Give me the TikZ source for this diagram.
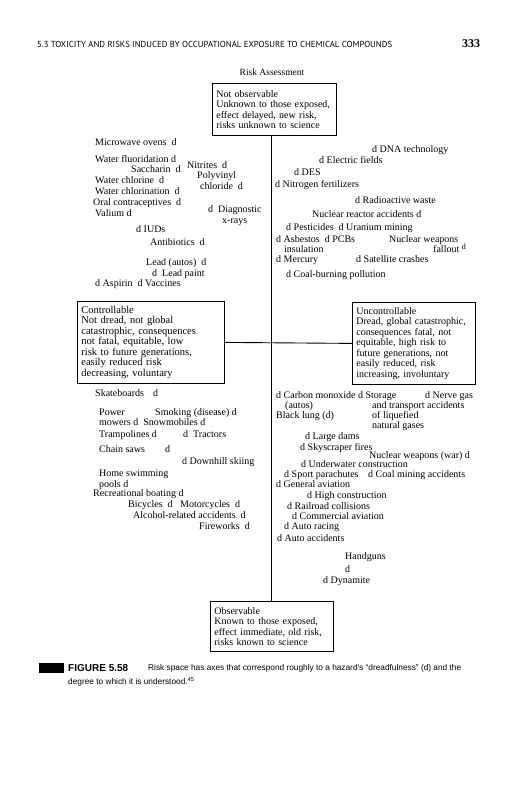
\documentclass[tikz,border=0pt]{standalone}
\usepackage{fontspec}
\setmainfont{Liberation Serif}
\newfontfamily\hdrsans{PT Sans}
\newfontfamily\capsans{Liberation Sans}
\begin{document}
\begin{tikzpicture}[x=1pt,y=-1pt,
  it/.style={anchor=base west, inner sep=0pt, font=\fontsize{10}{11}\selectfont},
  bx/.style={draw, line width=0.8pt, anchor=north west, align=left, inner xsep=4pt, inner ysep=2pt, font=\fontsize{10}{10.5}\selectfont},
  axisline/.style={line width=0.9pt}]
\useasboundingbox[fill=white] (0,0) rectangle (523,800);

% header
\node[anchor=base west, inner sep=0pt] (hdr) at (37,48) {\resizebox{355pt}{!}{\hdrsans 5.3 TOXICITY AND RISKS INDUCED BY OCCUPATIONAL EXPOSURE TO CHEMICAL COMPOUNDS}};
\node[anchor=base west, inner sep=0pt, font=\bfseries\fontsize{12}{12}\selectfont] (pg) at (462,48) {333};

\node[anchor=base, inner sep=0pt, font=\fontsize{9.5}{10}\selectfont] (title) at (272,75) {Risk Assessment};

% boxes
\node[bx, text width=116pt, minimum height=52pt] (top) at (212,83) {\mbox{Not observable}\\\mbox{Unknown to those exposed,}\\\mbox{effect delayed, new risk,}\\\mbox{risks unknown to science}};
\node[bx, text width=139pt, minimum height=82pt, font=\fontsize{10.5}{10.5}\selectfont] (ctrl) at (77,301) {\mbox{Controllable}\\\mbox{Not dread, not global}\\\mbox{catastrophic, consequences}\\\mbox{not fatal, equitable, low}\\\mbox{risk to future generations,}\\\mbox{easily reduced risk}\\\mbox{decreasing, voluntary}};
\node[bx, text width=115pt, minimum height=82pt] (unc) at (352,302) {\mbox{Uncontrollable}\\\mbox{Dread, global catastrophic,}\\\mbox{consequences fatal, not}\\\mbox{equitable, high risk to}\\\mbox{future generations, not}\\\mbox{easily reduced, risk}\\\mbox{increasing, involuntary}};
\node[bx, text width=115pt, minimum height=50pt] (obs) at (210,601) {\mbox{Observable}\\\mbox{Known to those exposed,}\\\mbox{effect immediate, old risk,}\\\mbox{risks known to science}};

% axes
\draw[axisline] (obs.north |- top.south) -- (obs.north);
\draw[axisline] (ctrl.east) -- (unc.west);

% upper left
\node[it] (a1) at (95,145) {Microwave ovens\ \ d};
\node[it] (a2) at (95,162) {Water fluoridation d};
\node[it] (a3) at (131,172) {Saccharin\ \ d};
\node[it] (a4) at (187,168) {Nitrites\ \ d};
\node[it] (a5) at (197,178) {Polyvinyl};
\node[it] (a6) at (200,189) {chloride\ \ d};
\node[it] (a7) at (95,183) {Water chlorine\ \ d};
\node[it] (a8) at (95,194) {Water chlorination\ \ d};
\node[it] (a9) at (93,205) {Oral contraceptives\ \ d};
\node[it] (a10) at (95,216) {Valium d};
\node[it] (a11) at (208,212) {d\ \ Diagnostic};
\node[it] (a12) at (222,223) {x-rays};
\node[it] (a13) at (136,232) {d IUDs};
\node[it] (a14) at (150,245) {Antibiotics\ \ d};
\node[it] (a15) at (146,265) {Lead (autos)\ \ d};
\node[it] (a16) at (152,276) {d\ \ Lead paint};
\node[it] (a17) at (95,286) {d Aspirin\ \ d Vaccines};

% upper right
\node[it] (b1) at (372,152) {d DNA technology};
\node[it] (b2) at (319,163) {d Electric fields};
\node[it] (b3) at (294,175) {d DES};
\node[it] (b4) at (275,187) {d Nitrogen fertilizers};
\node[it] (b5) at (355,203) {d Radioactive waste};
\node[it] (b6) at (312,217) {Nuclear reactor accidents d};
\node[it] (b7) at (286,230) {d Pesticides\ \ d Uranium mining};
\node[it] (b8) at (276,242) {d Asbestos\ \ d PCBs};
\node[it] (b9) at (389,242) {Nuclear weapons};
\node[it] (b10) at (284,252) {insulation};
\node[it] (b11) at (433,252) {fallout\ \raisebox{3pt}{\footnotesize d}};
\node[it] (b12) at (276,262) {d Mercury};
\node[it] (b13) at (356,262) {d Satellite crashes};
\node[it] (b14) at (286,277) {d Coal-burning pollution};

% lower left
\node[it] (c1) at (95,396) {\makebox[58pt][l]{Skateboards}d};
\node[it] (c2) at (99,415) {Power};
\node[it] (c3) at (155,415) {Smoking (disease) d};
\node[it] (c4) at (99,425) {mowers d\ \ Snowmobiles d};
\node[it] (c5) at (99,437) {Trampolines d};
\node[it] (c6) at (183,437) {d\ \ Tractors};
\node[it] (c7) at (99,452) {\makebox[66pt][l]{Chain saws}d};
\node[it] (c8) at (182,464) {d Downhill skiing};
\node[it] (c9) at (99,476) {Home swimming};
\node[it] (c10) at (99,487) {pools d};
\node[it] (c11) at (93,496) {Recreational boating d};
\node[it] (c12) at (128,507) {Bicycles\ \ d\ \ \ Motorcycles\ \ d};
\node[it] (c13) at (133,518) {Alcohol-related accidents\ \ d};
\node[it] (c14) at (199,529) {Fireworks\ \ d};

% lower right
\node[it] (d1) at (276,398) {d Carbon monoxide d Storage};
\node[it] (d2) at (425,398) {d Nerve gas};
\node[it] (d3) at (285,408) {(autos)};
\node[it] (d4) at (372,408) {and transport accidents};
\node[it] (d5) at (276,418) {Black lung (d)};
\node[it] (d6) at (372,418) {of liquefied};
\node[it] (d7) at (372,428) {natural gases};
\node[it] (d8) at (305,439) {d Large dams};
\node[it] (d9) at (300,450) {d Skyscraper fires};
\node[it] (d10) at (369,458) {Nuclear weapons (war) d};
\node[it] (d11) at (301,467) {d Underwater construction};
\node[it] (d12) at (284,477) {d Sport parachutes};
\node[it] (d13) at (368,477) {d Coal mining accidents};
\node[it] (d14) at (276,487) {d General aviation};
\node[it] (d15) at (307,498) {d High construction};
\node[it] (d16) at (287,509) {d Railroad collisions};
\node[it] (d17) at (292,519) {d Commercial aviation};
\node[it] (d18) at (284,529) {d Auto racing};
\node[it] (d19) at (277,541) {d Auto accidents};
\node[it] (d20) at (345,559) {Handguns};
\node[it] (d21) at (345,572) {d};
\node[it] (d22) at (323,583) {d Dynamite};

% caption
\node[fill=black, minimum width=25pt, minimum height=10pt, inner sep=0pt, anchor=north west] (blk) at (39,663) {};
\node[anchor=base west, inner sep=0pt, font=\capsans\bfseries\fontsize{10}{10}\selectfont] (fig) at (68,671) {FIGURE 5.58};
\node[anchor=base west, inner sep=0pt, font=\capsans\fontsize{8.3}{9}\selectfont] (cap1) at (148,670) {Risk space has axes that correspond roughly to a hazard's “dreadfulness” (d) and the};
\node[anchor=base west, inner sep=0pt, font=\capsans\fontsize{8.3}{9}\selectfont] (cap2) at (68,684) {degree to which it is understood.\textsuperscript{45}};
\end{tikzpicture}
\end{document}
